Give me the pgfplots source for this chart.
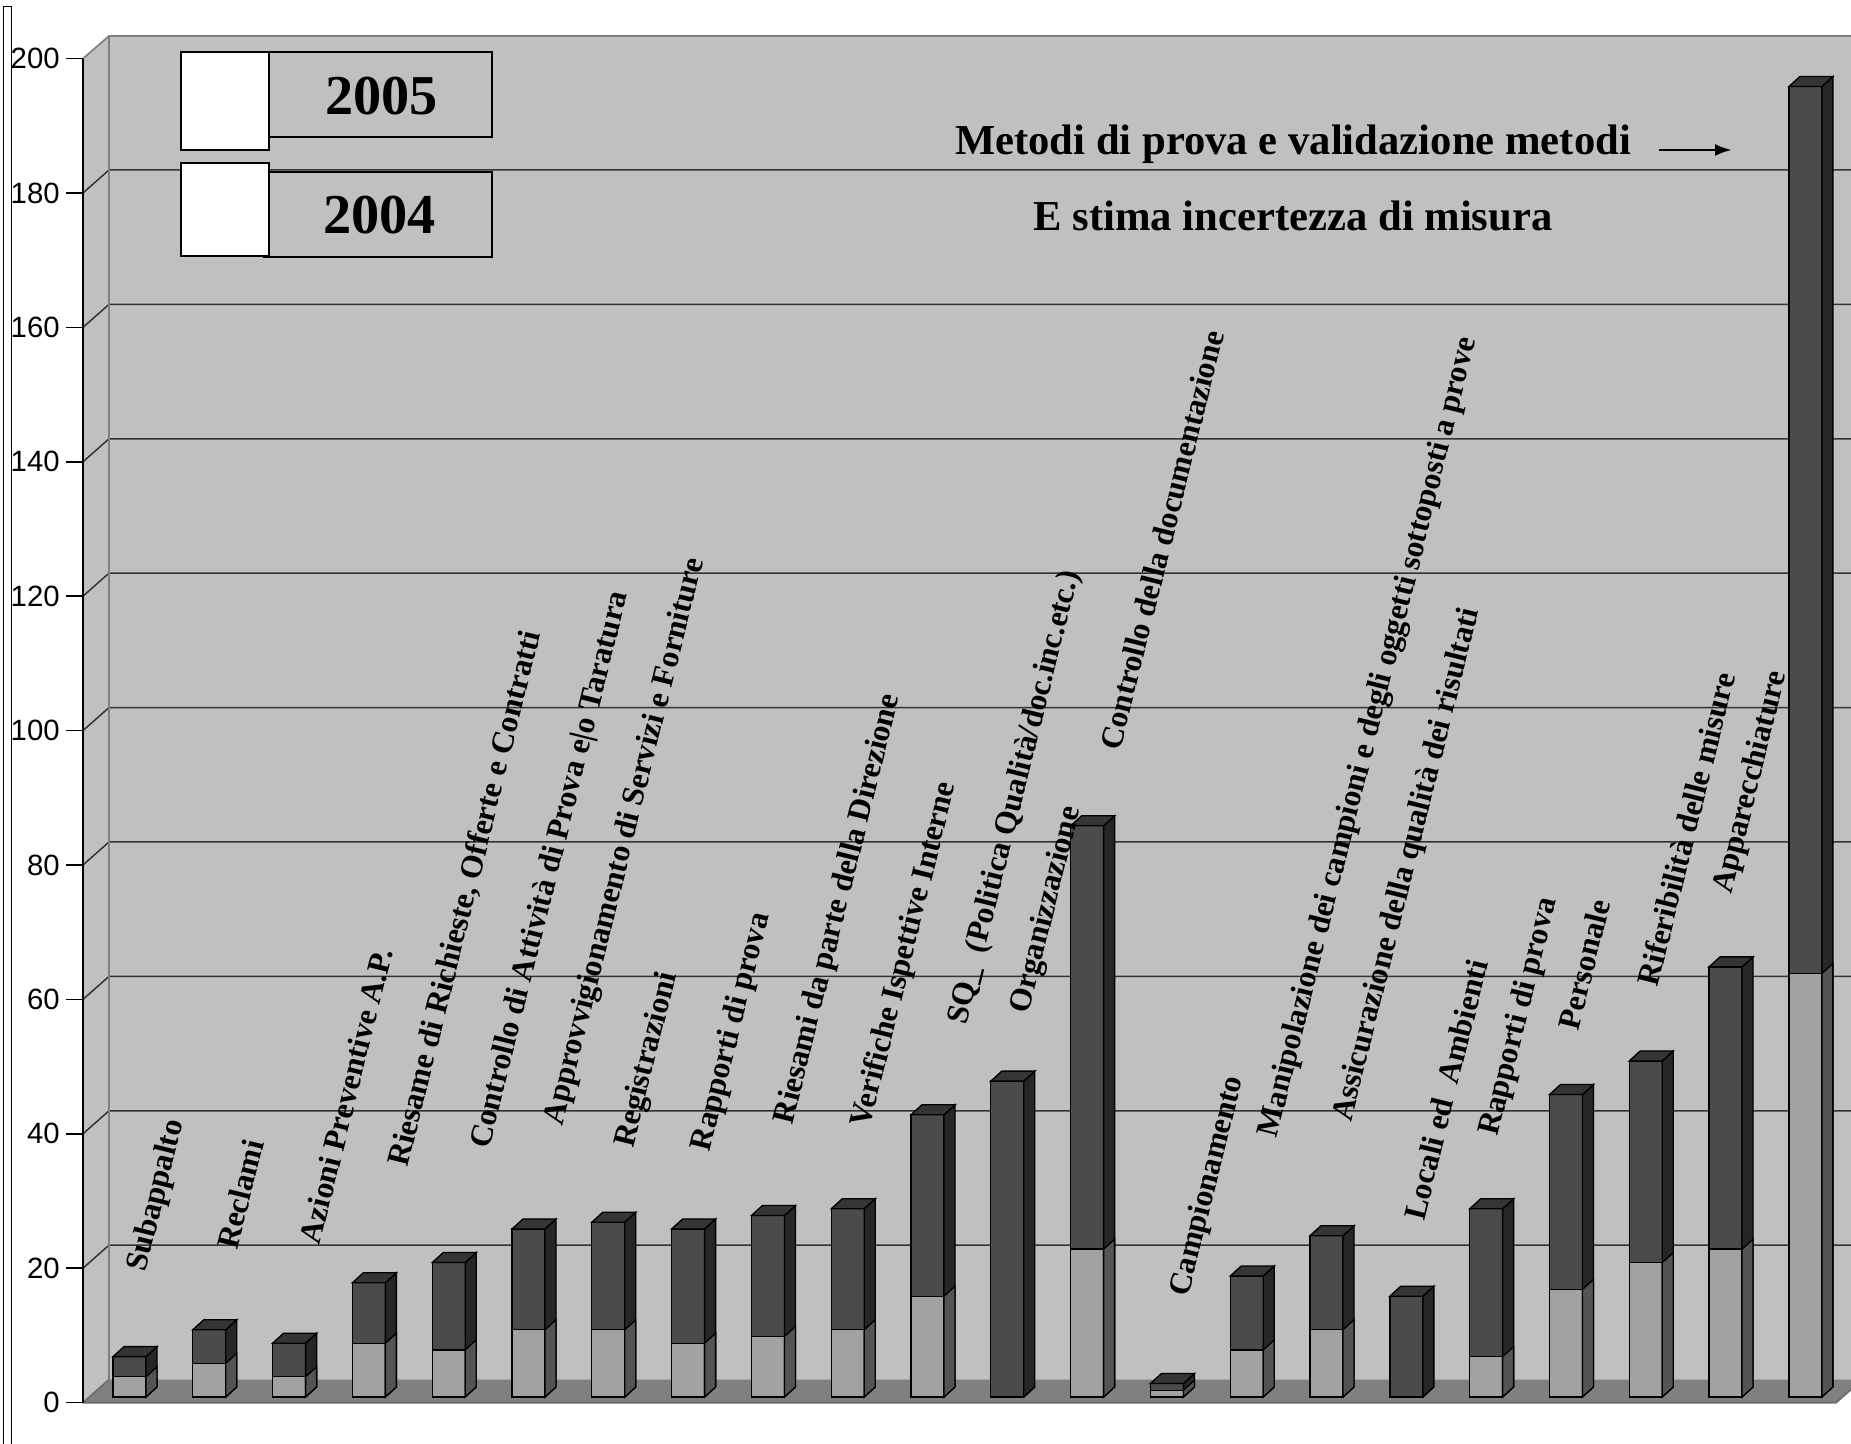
\documentclass[border=0pt]{standalone}
\usepackage{fontspec}
\setmainfont{Liberation Serif}
\setsansfont{Liberation Sans}
\usepackage{pgfplots}
\pgfplotsset{compat=1.18}
\usepackage{pgfplotstable}
\usetikzlibrary{arrows.meta}

\definecolor{wall}{HTML}{C0C0C0}
\definecolor{floorc}{HTML}{808080}
\definecolor{edgec}{HTML}{808080}
\definecolor{gridc}{HTML}{333333}
\definecolor{dfront}{HTML}{4B4B4B}
\definecolor{dside}{HTML}{262626}
\definecolor{dtop}{HTML}{353535}
\definecolor{lfront}{HTML}{A2A2A2}
\definecolor{lside}{HTML}{545454}

\pgfplotstableread{
x light dark total
0 3 3 6
1 5 5 10
2 3 5 8
3 8 9 17
4 7 13 20
5 10 15 25
6 10 16 26
7 8 17 25
8 9 18 27
9 10 18 28
10 15 27 42
11 0 47 47
12 22 63 85
13 1 1 2
14 7 11 18
15 10 14 24
16 0 15 15
17 6 22 28
18 16 29 45
19 20 30 50
20 22 42 64
21 63 132 195
}\datatable

\newlength\seglen
\pgfdeclareplotmark{darkbox}{%
  \pgfmathsetlength{\seglen}{\segh*2.016pt}%
  \pgfsetfillcolor{dside}%
  \pgfpathmoveto{\pgfqpoint{4.95pt}{0pt}}%
  \pgfpathlineto{\pgfqpoint{8.25pt}{3pt}}%
  \pgfpathlineto{\pgfpoint{8.25pt}{3pt-\seglen}}%
  \pgfpathlineto{\pgfpoint{4.95pt}{-\seglen}}%
  \pgfpathclose
  \pgfusepath{fill,stroke}%
  \pgfsetfillcolor{dtop}%
  \pgfpathmoveto{\pgfqpoint{-4.95pt}{0pt}}%
  \pgfpathlineto{\pgfqpoint{4.95pt}{0pt}}%
  \pgfpathlineto{\pgfqpoint{8.25pt}{3pt}}%
  \pgfpathlineto{\pgfqpoint{-1.65pt}{3pt}}%
  \pgfpathclose
  \pgfusepath{fill,stroke}%
}
\pgfdeclareplotmark{lightbox}{%
  \pgfmathsetlength{\seglen}{\segh*2.016pt}%
  \pgfsetfillcolor{lside}%
  \pgfpathmoveto{\pgfqpoint{4.95pt}{0pt}}%
  \pgfpathlineto{\pgfqpoint{8.25pt}{3pt}}%
  \pgfpathlineto{\pgfpoint{8.25pt}{3pt-\seglen}}%
  \pgfpathlineto{\pgfpoint{4.95pt}{-\seglen}}%
  \pgfpathclose
  \pgfusepath{fill,stroke}%
}

\newcommand\lab{\fontsize{9.5}{10}\selectfont\bfseries}

\begin{document}
\begin{tikzpicture}
% ---------- 3D walls and floor (picture coordinates in pt) ----------
\begin{scope}[x=1pt,y=1pt]
  \draw[black, line width=0.3pt] (0.9,0) -- (0.9,431.1) -- (3.3,431.1) -- (3.3,0);
  \fill[wall] (24.9,12.42) -- (32.7,19.32) -- (32.7,422.4) -- (24.9,415.62) -- cycle;
  \fill[wall] (32.7,19.32) rectangle (560,422.4);
  \fill[floorc] (24.9,12.42) -- (32.7,19.32) -- (558.6,19.32) -- (550.8,12.42) -- cycle;
  \foreach \v in {20,40,...,180} {
    \pgfmathsetmacro\yy{12.42+2.016*\v}
    \draw[gridc, line width=0.45pt] (24.9,\yy) -- (32.7,\yy+6.9) -- (560,\yy+6.9);
  }
  \draw[edgec, line width=0.5pt] (24.9,415.62) -- (32.7,422.4) -- (560,422.4);
  \draw[edgec, line width=0.5pt] (32.7,19.32) -- (32.7,422.4);
  \draw[edgec!85!black, line width=0.5pt] (24.9,12.42) -- (32.7,19.32);
  \draw[edgec!85!black, line width=0.6pt] (24.9,12.42) -- (550.8,12.42) -- (558.6,19.32);
\end{scope}

\begin{axis}[
  at={(24.9pt,12.42pt)}, anchor=south west,
  scale only axis, width=525.9pt, height=403.2pt,
  xmin=-0.5827, xmax=21.384, ymin=0, ymax=200,
  axis y line*=left, axis x line=none,
  ytick={0,20,...,200},
  tick align=outside, major tick length=5.1pt,
  y axis line style={line width=0.45pt, black, -},
  ytick style={line width=0.45pt, black},
  yticklabel style={font=\fontsize{8.8}{10}\selectfont\sffamily, inner sep=0pt, xshift=-1.7pt},
  /pgf/number format/assume math mode=true,
  clip=false,
]
\addplot[ybar, bar width=9.9pt, bar shift=0pt, fill=dfront, draw=black, line width=0.4pt, yshift=1.68pt]
  table[x=x, y=total] {\datatable};
\addplot[only marks, mark=darkbox, mark options={draw=black, line width=0.4pt, solid}, yshift=1.68pt,
  visualization depends on={\thisrow{total} \as \segh}]
  table[x=x, y=total] {\datatable};
\addplot[ybar, bar width=9.9pt, bar shift=0pt, fill=lfront, draw=black, line width=0.4pt, yshift=1.68pt]
  table[x=x, y=light] {\datatable};
\addplot[only marks, mark=lightbox, mark options={draw=black, line width=0.4pt, solid}, yshift=1.68pt,
  visualization depends on={\thisrow{light} \as \segh}]
  table[x=x, y=light] {\datatable};
\end{axis}

% ---------- legend, titles, category labels ----------
\begin{scope}[x=1pt,y=1pt]
  \filldraw[fill=wall, draw=black, line width=0.4pt] (80.7,392.1) rectangle (147.6,417.6);
  \filldraw[fill=white, draw=black, line width=0.4pt] (54.3,388.2) rectangle (80.7,417.6);
  \filldraw[fill=wall, draw=black, line width=0.4pt] (79.2,356.1) rectangle (147.6,381.6);
  \filldraw[fill=white, draw=black, line width=0.4pt] (54.3,356.4) rectangle (80.7,384.3);
  \node[anchor=base, inner sep=0pt, font=\fontsize{16.9}{18}\selectfont\bfseries] at (114.5,398.8) {2005};
  \node[anchor=base, inner sep=0pt, font=\fontsize{16.9}{18}\selectfont\bfseries] at (113.9,363.1) {2004};
  \node[anchor=base, inner sep=0pt, font=\fontsize{12.8}{14}\selectfont\bfseries] at (387.9,386.8) {Metodi di prova e validazione metodi};
  \node[anchor=base, inner sep=0pt, font=\fontsize{12.8}{14}\selectfont\bfseries] at (387.9,364.1) {E stima incertezza di misura};
  \draw[black, line width=0.6pt, -{Latex[length=5pt,width=3.6pt]}] (497.7,388.2) -- (519.5,388.2);

  \begin{scope}[every node/.style={rotate=76, anchor=west, inner sep=0pt, font=\lab}]
  \node at (41.4,51.7) {Subappalto};
  \node at (68.0,58.5) {Reclami};
  \node at (92.8,60.2) {Azioni Preventive A.P.};
  \node at (119.7,83.3) {Riesame di Richieste, Offerte e Contratti};
  \node at (144.5,88.6) {Controllo di Attività di Prova e\textbar o Taratura};
  \node at (166.5,95.7) {Approvvigionamento di Servizi e Forniture};
  \node at (187.7,88.9) {Registrazioni};
  \node at (210.7,87.9) {Rapporti di prova};
  \node at (235.5,96.0) {Riesami da parte della Direzione};
  \node at (258.6,95.0) {Verifiche Ispettive Interne};
  \node at (287.6,125.8) {SQ\_\ \ (Politica Qualità/doc.inc.etc.)};
  \node at (306.4,129.3) {Organizzazione};
  \node at (332.9,208.3) {Controllo della documentazione};
  \node at (354.2,44.3) {Campionamento};
  \node at (380.8,92.1) {Manipolazione dei campioni e degli oggetti sottoposti a prove};
  \node at (403.1,96.7) {Assicurazione della qualità dei risultati};
  \node at (424.0,67.3) {Locali ed\ \ Ambienti};
  \node at (447.0,92.5) {Rapporti di prova};
  \node at (470.4,124.4) {Personale};
  \node at (494.1,137.5) {Riferibilità delle misure};
  \node at (517.1,165.1) {Apparecchiature};
  \end{scope}
\end{scope}

\pgfresetboundingbox
\path[use as bounding box] (0pt,0pt) rectangle (555.3pt,433.2pt);
\end{tikzpicture}
\end{document}
